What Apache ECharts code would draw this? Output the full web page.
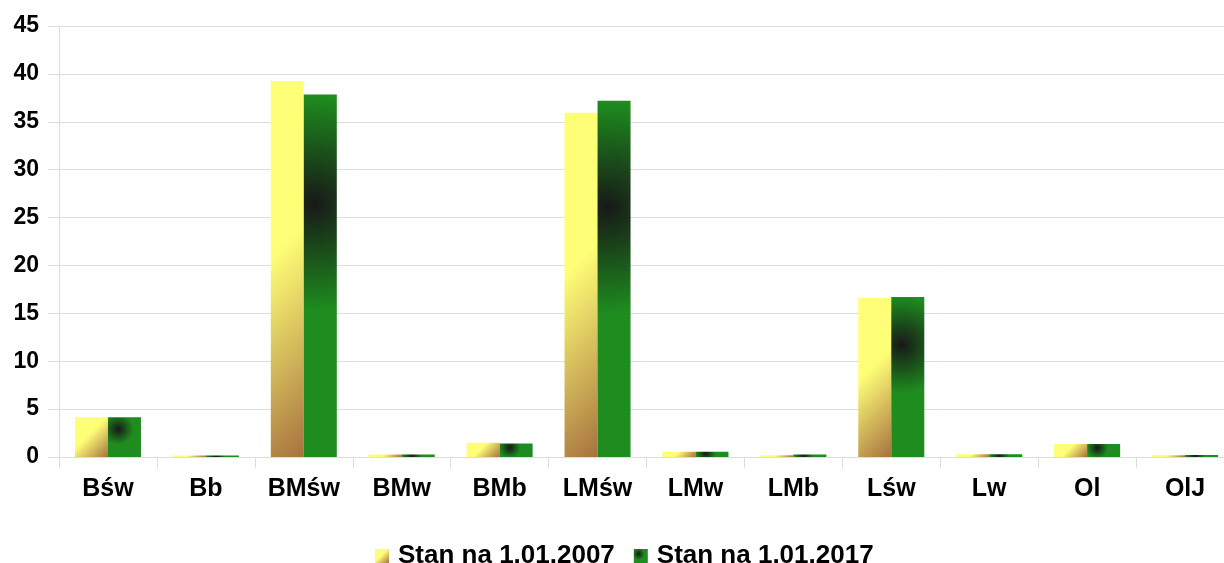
<!DOCTYPE html>
<html>
<head>
<meta charset="utf-8">
<script src="https://cdn.jsdelivr.net/npm/echarts@6/dist/echarts.min.js"></script>
<style>
  html, body { margin: 0; padding: 0; background: #ffffff; overflow: hidden; }
  #chart { width: 1240px; height: 563px; }
</style>
</head>
<body>
<div id="chart"></div>
<script>
// Forest habitat types and their share (%) at two reference dates
const categories = ['Bśw', 'Bb', 'BMśw', 'BMw', 'BMb', 'LMśw', 'LMw', 'LMb', 'Lśw', 'Lw', 'Ol', 'OlJ'];
const seriesNames = ['Stan na 1.01.2007', 'Stan na 1.01.2017'];
const values2007 = [4.15, 0.15, 39.25, 0.25, 1.5, 35.95, 0.55, 0.17, 16.6, 0.28, 1.35, 0.17];
const values2017 = [4.15, 0.15, 37.85, 0.25, 1.4, 37.2, 0.55, 0.25, 16.7, 0.3, 1.35, 0.2];
const yTicks = { min: 0, max: 45, interval: 5 };

const FONT = '"Liberation Sans", Arial, sans-serif';
const GRID_COLOR = '#dddddd';
const YELLOW = '#ffff77';
const BROWN = '#a6723f';
const GREEN = '#1e8c1e';
const DARK = '#181818';

const chart = echarts.init(document.getElementById('chart'), null, { renderer: 'canvas' });

const baseOption = {
  animation: false,
  backgroundColor: '#ffffff',
  grid: { left: 59, right: 6, top: 26, bottom: 106, containLabel: false },
  legend: {
    data: seriesNames,
    top: 538,
    left: 370,
    icon: 'rect',
    itemWidth: 14,
    itemHeight: 14,
    itemGap: 19,
    textStyle: { fontFamily: FONT, fontWeight: 'bold', fontSize: 26, color: '#000', padding: [0, 0, 0, 4] }
  },
  xAxis: {
    type: 'category',
    data: categories,
    boundaryGap: true,
    axisLine: { show: true, lineStyle: { color: GRID_COLOR, width: 1 } },
    axisTick: { show: true, length: 11, alignWithLabel: false, lineStyle: { color: GRID_COLOR } },
    axisLabel: { margin: 20, fontFamily: FONT, fontWeight: 'bold', fontSize: 25, color: '#000' },
    splitLine: { show: false }
  },
  yAxis: {
    type: 'value',
    min: yTicks.min,
    max: yTicks.max,
    interval: yTicks.interval,
    axisLine: { show: true, lineStyle: { color: GRID_COLOR, width: 1 } },
    axisTick: { show: true, length: 11, lineStyle: { color: GRID_COLOR } },
    axisLabel: { margin: 20, fontFamily: FONT, fontWeight: 'bold', fontSize: 23, color: '#000' },
    splitLine: { show: true, lineStyle: { color: GRID_COLOR, width: 1 } }
  },
  series: [
    {
      name: seriesNames[0],
      type: 'bar',
      data: values2007,
      barWidth: 33,
      barGap: '0%',
      itemStyle: {
        color: new echarts.graphic.LinearGradient(0, 0, 1, 1, [
          { offset: 0, color: YELLOW }, { offset: 0.45, color: YELLOW }, { offset: 1, color: BROWN }
        ])
      }
    },
    {
      name: seriesNames[1],
      type: 'bar',
      data: values2017,
      barWidth: 33,
      barGap: '0%',
      itemStyle: {
        color: new echarts.graphic.RadialGradient(0.35, 0.35, 0.7, [
          { offset: 0, color: DARK }, { offset: 0.6, color: GREEN }, { offset: 1, color: GREEN }
        ])
      }
    }
  ]
};

chart.setOption(baseOption);

// Shade each bar in canvas space so the fills keep the same look on tall and short bars
function barRect(seriesIndex, i) {
  const data = chart.getModel().getSeriesByIndex(seriesIndex).getData();
  const l = data.getItemLayout(i);
  const x0 = Math.min(l.x, l.x + l.width);
  const y0 = Math.min(l.y, l.y + l.height);
  return { x: x0, y: y0, w: Math.abs(l.width), h: Math.abs(l.height) };
}

function yellowFill(r) {
  const d = (r.w + r.h) / 2;
  return new echarts.graphic.LinearGradient(r.x, r.y, r.x + d, r.y + d, [
    { offset: 0, color: YELLOW }, { offset: 0.43, color: YELLOW }, { offset: 1, color: BROWN }
  ], true);
}

function greenFill(r) {
  const cx = r.x + 0.31 * r.w;
  const cy = r.y + 0.3 * r.h;
  const rad = Math.sqrt(r.w * r.w + r.h * r.h) / 2;
  return new echarts.graphic.RadialGradient(cx, cy, rad, [
    { offset: 0, color: DARK }, { offset: 0.59, color: GREEN }, { offset: 1, color: GREEN }
  ], true);
}

const data2007 = values2007.map((v, i) => ({ value: v, itemStyle: { color: yellowFill(barRect(0, i)) } }));
const data2017 = values2017.map((v, i) => ({ value: v, itemStyle: { color: greenFill(barRect(1, i)) } }));

chart.setOption({ series: [{ data: data2007 }, { data: data2017 }] });
</script>
</body>
</html>
